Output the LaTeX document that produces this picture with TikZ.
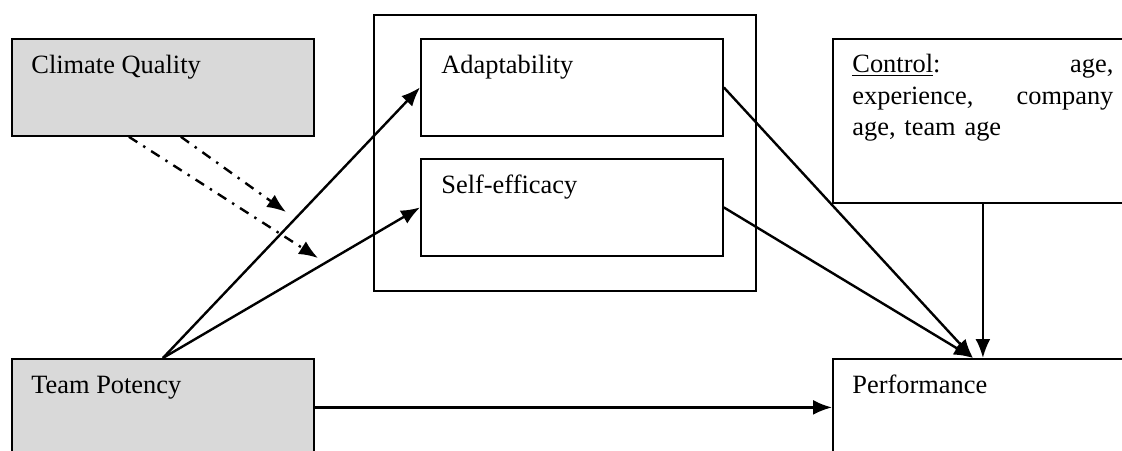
\documentclass[tikz,border=0pt]{standalone}
\usepackage{fontspec}
\setmainfont{Liberation Serif}
\usetikzlibrary{arrows.meta}
\definecolor{boxgray}{RGB}{217,217,217}

\begin{document}
\begin{tikzpicture}[x=0.5pt,y=-0.5pt,
		box/.style={draw, line width=0.9pt, inner sep=0pt, anchor=north west, minimum width=151pt, minimum height=48.5pt},
		shaded/.style={box, fill=boxgray},
		lbl/.style={anchor=base west, inner sep=0pt, font=\fontsize{13.2}{15.75}\selectfont},
		link/.style={line width=1.2pt, -{Latex[length=9.5pt,width=7.5pt]}},
		modlink/.style={link, dash pattern=on 5pt off 3.5pt on 1.2pt off 3.5pt}]

		\useasboundingbox (0,0) rectangle (1122,450);
		\clip (0,0) rectangle (1122,450);

		% Left Column: Predictors
		\node[shaded] (cq) at (11,38) {};
		\node[shaded] (tp) at (11,358) {};

		% Middle Block: Mediators
		\node[box, minimum width=191pt, minimum height=138pt] (grp) at (373,14) {};
		\node[box] (ad) at (420,38) {};
		\node[box] (se) at (420,158) {};

		% Right Column: Control and Outcome
		\node[box, minimum width=150pt, minimum height=82pt] (ctl) at (832,38) {};
		\node[box, minimum width=150pt] (perf) at (832,358) {};

		% Labels
		\node[lbl] (cqt) at ([shift={(20,35)}]cq.north west) {Climate Quality};
		\node[lbl] (tpt) at ([shift={(20,35)}]tp.north west) {Team Potency};
		\node[lbl] (adt) at ([shift={(21,35)}]ad.north west) {Adaptability};
		\node[lbl] (set) at ([shift={(21,35)}]se.north west) {Self-efficacy};
		\node[lbl] (perft) at ([shift={(20,35)}]perf.north west) {Performance};
		\node[lbl, anchor=north west, text width=130.5pt, align=left] (ctlt) at ([shift={(20,16)}]ctl.north west)
			{\underline{Control}:\hfill age,\\experience,\hfill company\\age, team age};

		% Arrows
		\coordinate (hub) at (973,358);
		\coordinate (m1) at (286,212);
		\coordinate (m2) at (318,258);

		\draw[link] (tp.north) -- (ad.west);
		\draw[link] (tp.north) -- (se.west);
		\draw[link] (tp.east) -- (perf.west);
		\draw[link] (ad.east) -- (hub);
		\draw[link] (se.east) -- (hub);
		\draw[link] (ctl.south) -- (ctl.south |- perf.north);

		% Moderation
		\draw[modlink] ([xshift=9pt]cq.south) -- (m1);
		\draw[modlink] ([xshift=-17pt]cq.south) -- (m2);

	\end{tikzpicture}
\end{document}
